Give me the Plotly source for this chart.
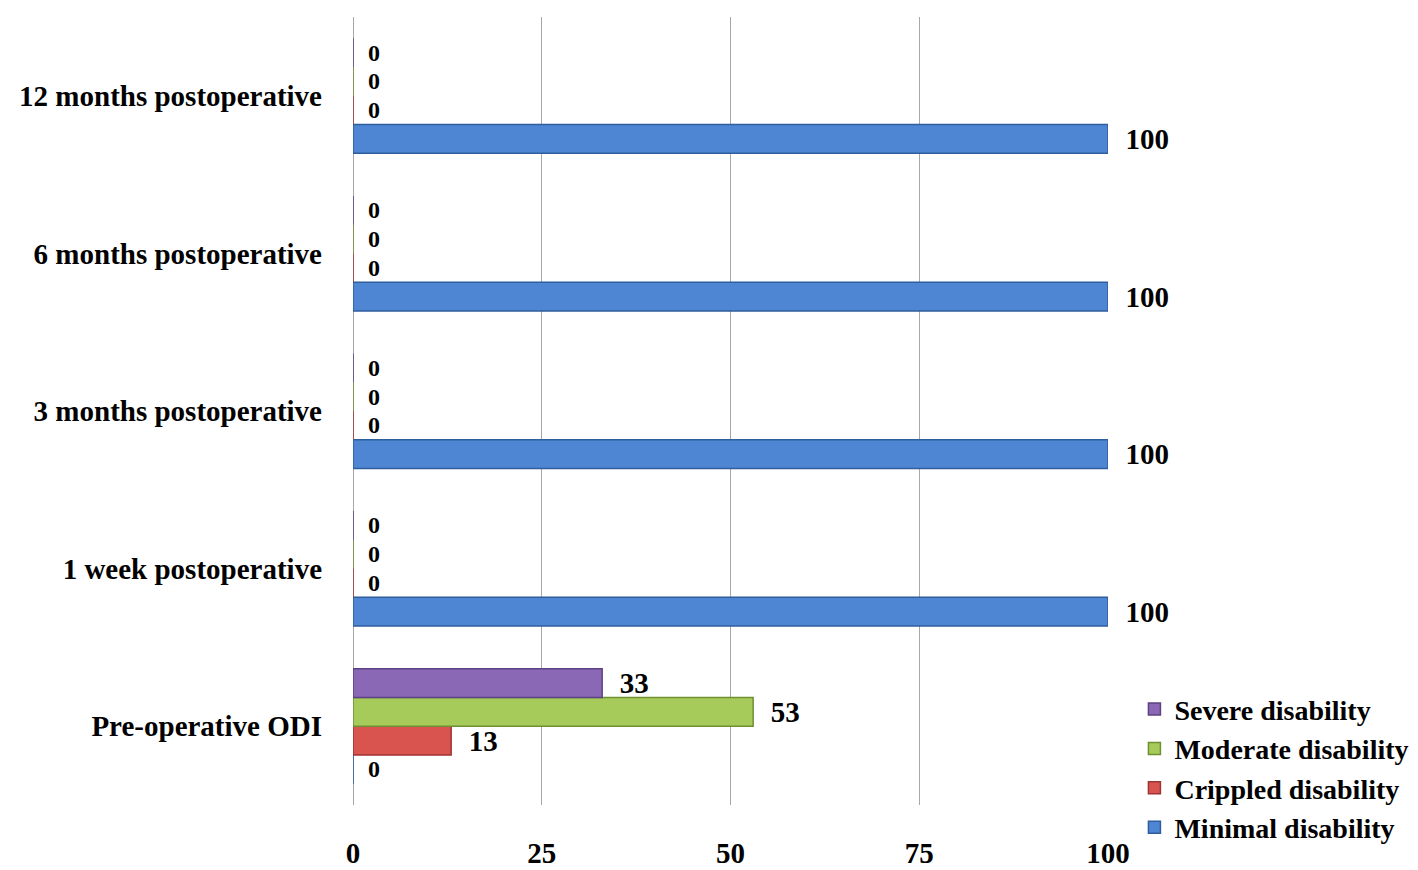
import plotly.graph_objects as go

categories = ["Pre-operative ODI", "1 week postoperative", "3 months postoperative",
              "6 months postoperative", "12 months postoperative"]
minimal = [0, 100, 100, 100, 100]
crippled = [13, 0, 0, 0, 0]
moderate = [53, 0, 0, 0, 0]
severe = [33, 0, 0, 0, 0]

series = [
    ("Minimal disability", minimal, "#4F86D3", "#2f5e9e"),
    ("Crippled disability", crippled, "#D9534F", "#9e3532"),
    ("Moderate disability", moderate, "#A6CB5B", "#6f8f33"),
    ("Severe disability", severe, "#8A68B6", "#5c4282"),
]

FONT = "Liberation Serif"
SIZE = 29

fig = go.Figure()
for name, vals, color, edge in series:
    fig.add_trace(go.Bar(
        y=categories,
        x=vals,
        name=name,
        orientation="h",
        marker=dict(color=color, line=dict(color=edge, width=1.5)),
        text=["\u00a0\u00a0" + str(v) for v in vals],
        textposition="outside",
        constraintext="none",
        # zero labels are stacked tightly, keep them a bit smaller
        textfont=dict(family=FONT, color="black", weight="bold",
                      size=[SIZE if v else 24 for v in vals]),
        cliponaxis=False,
    ))

fig.update_layout(
    width=1418, height=870,
    barmode="group",
    bargap=0.27,
    bargroupgap=0,
    plot_bgcolor="white",
    paper_bgcolor="white",
    font=dict(family=FONT, size=SIZE, color="black", weight="bold"),
    margin=dict(l=345, r=318, t=9, b=45),
    showlegend=True,
    legend=dict(
        traceorder="reversed",
        x=1.035, y=-0.06, xanchor="left", yanchor="bottom",
        font=dict(family=FONT, size=28, color="black", weight="bold"),
        itemwidth=30,
        tracegroupgap=0,
    ),
    xaxis=dict(
        range=[0, 100],
        tickvals=[0, 25, 50, 75, 100],
        showgrid=True,
        gridcolor="#a8a8a8",
        gridwidth=1.2,
        zeroline=True,
        zerolinecolor="#a8a8a8",
        zerolinewidth=1.2,
        ticks="outside",
        ticklen=22,
        tickcolor="rgba(0,0,0,0)",
        tickfont=dict(family=FONT, size=SIZE, color="black", weight="bold"),
        showline=False,
    ),
    yaxis=dict(
        showgrid=False,
        showline=False,
        ticks="",
        ticklabelstandoff=30,
        tickfont=dict(family=FONT, size=SIZE, color="black", weight="bold"),
    ),
)

fig.write_html("out.html")
